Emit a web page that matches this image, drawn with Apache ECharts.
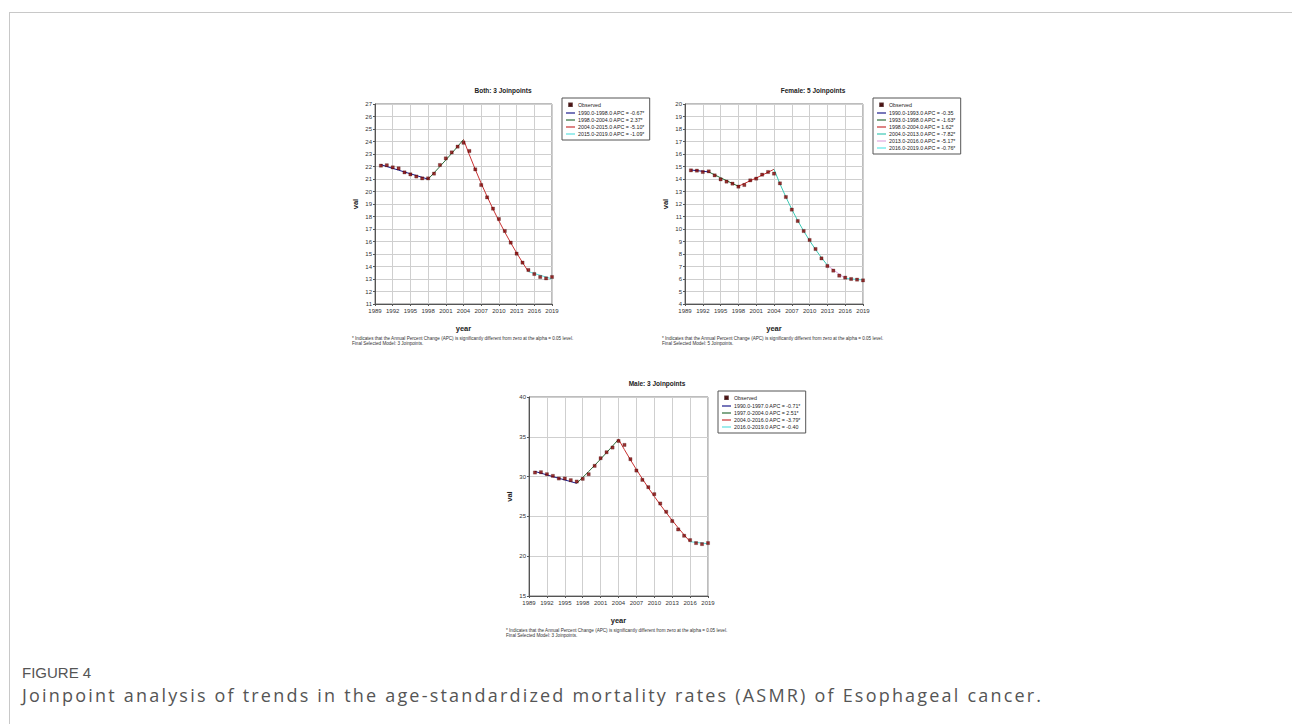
<!DOCTYPE html>
<html>
<head>
<meta charset="utf-8">
<script src="https://cdn.jsdelivr.net/npm/echarts@6/dist/echarts.min.js"></script>
<style>
html,body{margin:0;padding:0;background:#fff;}
#frame{position:absolute;left:9px;top:12px;width:1300px;height:720px;border-top:1px solid #c8c8c8;border-left:1px solid #c8c8c8;}
#chart{position:absolute;left:0;top:0;width:1292px;height:724px;}
#fig{position:absolute;left:22px;top:664px;font-family:'Liberation Sans Narrow','Liberation Sans',sans-serif;font-size:15px;color:#555;}
#cap{position:absolute;left:22px;top:683px;font-family:'Open Sans',sans-serif;font-size:18px;color:#555;letter-spacing:2.2px;white-space:nowrap;}
</style>
</head>
<body>
<div id="frame"></div>
<div id="chart"></div>
<div id="fig">FIGURE 4</div>
<div id="cap">Joinpoint analysis of trends in the age-standardized mortality rates (ASMR) of Esophageal cancer.</div>
<script>
// ---------- data ----------
const years = [1990,1991,1992,1993,1994,1995,1996,1997,1998,1999,2000,2001,2002,2003,2004,2005,2006,2007,2008,2009,2010,2011,2012,2013,2014,2015,2016,2017,2018,2019];
const xTickStart = 1989, xTickEnd = 2019, xTickStep = 3;

const bothObserved = [22.07,22.10,21.93,21.85,21.53,21.37,21.20,21.05,21.05,21.43,22.12,22.65,23.13,23.59,23.90,23.24,21.77,20.52,19.53,18.63,17.80,16.84,15.91,15.03,14.31,13.72,13.40,13.16,13.05,13.16];
const bothFitted   = [22.15,22.00,21.85,21.71,21.56,21.42,21.28,21.13,20.99,21.49,22.00,22.52,23.05,23.60,24.16,22.93,21.76,20.65,19.60,18.60,17.65,16.75,15.90,15.09,14.32,13.59,13.44,13.30,13.15,13.01];
const bothJoinYears = [1990,1998,2004,2015,2019];
const bothSegLabels = ['1990.0-1998.0 APC = -0.67*','1998.0-2004.0 APC = 2.37*','2004.0-2015.0 APC = -5.10*','2015.0-2019.0 APC = -1.09*'];

const femaleObserved = [14.69,14.67,14.56,14.61,14.29,13.97,13.79,13.63,13.39,13.52,13.89,14.03,14.35,14.56,14.43,13.65,12.56,11.55,10.64,9.84,9.12,8.40,7.65,7.04,6.67,6.27,6.11,6.00,5.95,5.89];
const femaleFitted   = [14.72,14.67,14.62,14.57,14.33,14.10,13.87,13.64,13.42,13.64,13.86,14.08,14.31,14.54,14.78,13.62,12.56,11.58,10.67,9.84,9.07,8.36,7.71,7.10,6.73,6.39,6.06,6.01,5.97,5.92];
const femaleJoinYears = [1990,1993,1998,2004,2013,2016,2019];
const femaleSegLabels = ['1990.0-1993.0 APC = -0.35','1993.0-1998.0 APC = -1.63*','1998.0-2004.0 APC = 1.62*','2004.0-2013.0 APC = -7.82*','2013.0-2016.0 APC = -5.17*','2016.0-2019.0 APC = -0.76*'];

const maleObserved = [30.51,30.55,30.30,30.09,29.76,29.76,29.55,29.38,29.72,30.30,31.35,32.31,33.06,33.65,34.48,33.98,32.19,30.76,29.59,28.67,27.79,26.62,25.58,24.41,23.36,22.57,22.02,21.65,21.52,21.65];
const maleFitted   = [30.65,30.43,30.22,30.00,29.79,29.58,29.37,29.16,29.89,30.64,31.41,32.20,33.01,33.84,34.69,33.38,32.11,30.89,29.72,28.59,27.51,26.47,25.47,24.50,23.57,22.68,21.82,21.73,21.65,21.56];
const maleJoinYears = [1990,1997,2004,2016,2019];
const maleSegLabels = ['1990.0-1997.0 APC = -0.71*','1997.0-2004.0 APC = 2.51*','2004.0-2016.0 APC = -3.79*','2016.0-2019.0 APC = -0.40'];

const titles = ['Both: 3 Joinpoints','Female: 5 Joinpoints','Male: 3 Joinpoints'];
const footLine1 = '* Indicates that the Annual Percent Change (APC) is significantly different from zero at the alpha = 0.05 level.';
const footLine2 = ['Final Selected Model: 3 Joinpoints.','Final Selected Model: 5 Joinpoints.','Final Selected Model: 3 Joinpoints.'];
const yRanges = [[11,27,1],[4,20,1],[15,40,5]];

// ---------- styles ----------
const colors4 = ['#1c1c8c','#2e6e3a','#c83232','#5ee0e0'];
const colors6 = ['#1c1c8c','#2e6e3a','#c83232','#3cc8b4','#e0a8e0','#5ee8e8'];
const narrow = "'Liberation Sans Narrow','Liberation Sans',Arial,sans-serif";
const lineIcon = 'path://M0,0 M9,6 M0,2.4 L9,2.4 L9,3.6 L0,3.6 Z';
const dotIcon = 'path://M0,0 M9,6 M3.2,1.4 L5.8,1.4 L5.8,4.0 L3.2,4.0 Z';
const panels = [
  {left:375, top:104, width:177, height:200, obs:bothObserved, fit:bothFitted, jy:bothJoinYears, labels:bothSegLabels, colors:colors4},
  {left:685, top:104, width:178, height:200, obs:femaleObserved, fit:femaleFitted, jy:femaleJoinYears, labels:femaleSegLabels, colors:colors6},
  {left:529, top:397, width:179, height:199, obs:maleObserved, fit:maleFitted, jy:maleJoinYears, labels:maleSegLabels, colors:colors4}
];

const grid=[], xAxis=[], yAxis=[], series=[], legend=[], title=[];
panels.forEach((p,i)=>{
  grid.push({left:p.left, top:p.top, width:p.width, height:p.height, show:true, borderColor:'#7a7a7a', borderWidth:1, backgroundColor:'#fff'});
  xAxis.push({type:'value', gridIndex:i, min:xTickStart, max:xTickEnd, interval:xTickStep,
    name:'year', nameLocation:'middle', nameGap:20, nameTextStyle:{fontFamily:narrow, fontWeight:'bold', fontSize:7.5, color:'#222'},
    axisLine:{show:true, onZero:false, lineStyle:{color:'#555', width:1}},
    axisTick:{show:true, length:2, lineStyle:{color:'#555'}},
    axisLabel:{fontFamily:narrow, fontSize:6, color:'#333', margin:4, formatter:v=>String(v)},
    splitLine:{show:true, lineStyle:{color:'#cfcfcf', width:1}}});
  const yr = yRanges[i];
  yAxis.push({type:'value', gridIndex:i, min:yr[0], max:yr[1], interval:yr[2],
    name:'val', nameLocation:'middle', nameGap:16, nameRotate:90, nameTextStyle:{fontFamily:narrow, fontWeight:'bold', fontSize:7.5, color:'#222'},
    axisLine:{show:true, onZero:false, lineStyle:{color:'#555', width:1}},
    axisTick:{show:true, length:2, lineStyle:{color:'#555'}},
    axisLabel:{fontFamily:narrow, fontSize:6, color:'#333', margin:3, formatter:v=>String(v)},
    splitLine:{show:true, lineStyle:{color:'#cfcfcf', width:1}}});
  const items=[{name:'Observed', icon:dotIcon, itemStyle:{color:'#800000'}}];
  for(let s=0;s<p.jy.length-1;s++){
    const seg=[];
    years.forEach((y,k)=>{ if(y>=p.jy[s] && y<=p.jy[s+1]) seg.push([y,p.fit[k]]); });
    series.push({type:'line', name:p.labels[s], xAxisIndex:i, yAxisIndex:i, symbol:'none', silent:true, z:2,
      lineStyle:{color:p.colors[s], width:1}, itemStyle:{color:p.colors[s]}, data:seg});
    items.push({name:p.labels[s], icon:lineIcon, itemStyle:{color:p.colors[s]}});
  }
  series.push({type:'scatter', name:'Observed', xAxisIndex:i, yAxisIndex:i, symbol:'rect', symbolSize:3.2, z:5,
    itemStyle:{color:'#800000', borderColor:'#300000', borderWidth:0.3},
    data: years.map((y,k)=>[y,p.obs[k]])});
  legend.push({orient:'vertical', left:p.left+p.width+10, top:p.top-6, data:items,
    itemWidth:9, itemHeight:6, itemGap:1, padding:[3,5,3,3], borderColor:'#555', borderWidth:1, backgroundColor:'#fff',
    selectedMode:false, textStyle:{fontFamily:narrow, fontSize:5.3, color:'#222', padding:[0,0,0,-2]}});
  title.push({text:titles[i], left:p.left+123, top:p.top-22, textAlign:'center',
    textStyle:{fontFamily:"'Liberation Sans',Arial,sans-serif", fontWeight:'bold', fontSize:6.5, color:'#222'}});
  title.push({text:footLine1+'\n'+footLine2[i], left:p.left-23, top:p.top+p.height+32, padding:0,
    textStyle:{fontFamily:narrow, fontWeight:'normal', fontSize:4.6, lineHeight:5.2, color:'#333'}});
});

const chart = echarts.init(document.getElementById('chart'), null, {renderer:'svg', width:1292, height:724});
chart.setOption({animation:false, backgroundColor:'transparent', title, grid, xAxis, yAxis, legend, series});
</script>
</body>
</html>
